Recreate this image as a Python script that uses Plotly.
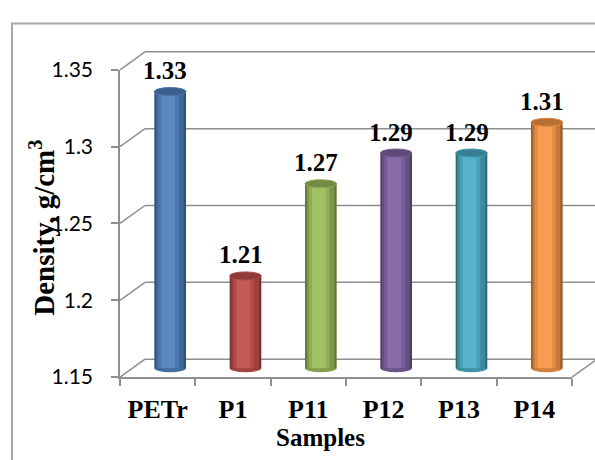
import plotly.graph_objects as go

# ---- data ----
samples = ["PETr", "P1", "P11", "P12", "P13", "P14"]
density = [1.33, 1.21, 1.27, 1.29, 1.29, 1.31]
bar_colors = ["#4F81BD", "#C0504D", "#9BBB59", "#8064A2", "#4BACC6", "#F79646"]
y_ticks = [1.15, 1.2, 1.25, 1.3, 1.35]
y_ticktext = ["1.15", "1.2", "1.25", "1.3", "1.35"]

W, H = 595, 460
YMIN, YMAX = 1.15, 1.35
# front plane (pixels)
FX0, FX1 = 120, 572
FY_BOT, FY_TOP = 384, 59
# depth offsets
DX, DY = 25, -19          # back wall
MX, MY = 12.5, -9.5       # bars plane
PAD = 0.01                # extra range on bar axes so caps are not clipped

def shade(hexc, f):
    h = hexc.lstrip("#")
    r, g, b = (int(h[i:i + 2], 16) for i in (0, 2, 4))
    if f <= 1:
        r, g, b = r * f, g * f, b * f
    else:
        t = f - 1
        r, g, b = r + (255 - r) * t, g + (255 - g) * t, b + (255 - b) * t
    return "rgb(%d,%d,%d)" % (round(r), round(g), round(b))

def fy(t):
    return FY_BOT - (t - YMIN) / (YMAX - YMIN) * (FY_BOT - FY_TOP)

def px(x):
    return x / W

def py(y):
    return 1 - y / H

fig = go.Figure()
GRID = "#8f8f8f"

# ---- walls (shapes below everything) ----
shapes = []
for t in y_ticks:
    yf = fy(t)
    yb = yf + DY
    shapes.append(dict(type="line", xref="paper", yref="paper", layer="below",
                       x0=px(FX0), y0=py(yf), x1=px(FX0 + DX), y1=py(yb),
                       line=dict(color=GRID, width=1.5)))
    shapes.append(dict(type="line", xref="paper", yref="paper", layer="below",
                       x0=px(FX0 + DX), y0=py(yb), x1=px(W + 20), y1=py(yb),
                       line=dict(color=GRID, width=1.5)))
# floor right edge
shapes.append(dict(type="line", xref="paper", yref="paper", layer="below",
                   x0=px(FX1), y0=py(FY_BOT), x1=px(FX1 + DX), y1=py(FY_BOT + DY),
                   line=dict(color=GRID, width=1.5)))
# outer chart border
shapes.append(dict(type="rect", xref="paper", yref="paper", layer="below",
                   x0=px(12), y0=py(H + 30), x1=px(W + 30), y1=py(10),
                   line=dict(color="#a6a6a6", width=2), fillcolor="rgba(0,0,0,0)"))

# ---- front axes (invisible trace to carry categories) ----
fig.add_trace(go.Bar(x=samples, y=density, xaxis="x", yaxis="y", opacity=0,
                     marker=dict(color="rgba(0,0,0,0)", line=dict(width=0)),
                     hoverinfo="skip", showlegend=False))

# ---- cylinder bars on mid-depth axes ----
idx = list(range(len(samples)))
BW = 0.42
layers = [(0.0, 1.0, 0.62), (0.05, 0.88, 0.80), (0.12, 0.66, 0.93), (0.22, 0.44, 1.06)]
lengths = [v - YMIN for v in density]
for start, frac, f in layers:
    fig.add_trace(go.Bar(
        x=idx, y=lengths, base=[YMIN] * len(idx), xaxis="x2", yaxis="y2",
        width=[BW * frac] * len(idx), offset=[-BW / 2 + BW * start] * len(idx),
        marker=dict(color=[shade(c, f) for c in bar_colors], line=dict(width=0)),
        hoverinfo="skip", showlegend=False))

cap_h = 0.0052
for i, (v, c) in enumerate(zip(density, bar_colors)):
    # bottom rounding
    shapes.append(dict(type="circle", xref="x2", yref="y2", layer="below",
                       x0=i - BW / 2, x1=i + BW / 2, y0=YMIN - cap_h / 2, y1=YMIN + cap_h / 2,
                       fillcolor=shade(c, 0.85), line=dict(width=0)))
    # top cap
    shapes.append(dict(type="circle", xref="x2", yref="y2", layer="above",
                       x0=i - BW / 2, x1=i + BW / 2, y0=v - cap_h / 2, y1=v + cap_h / 2,
                       fillcolor=shade(c, 0.74), line=dict(color=shade(c, 0.9), width=1)))

SERIF = "Liberation Serif"
annotations = []
for i, v in enumerate(density):
    annotations.append(dict(xref="x2", yref="y2", x=i, y=v, text="<b>%.2f</b>" % v,
                            showarrow=False, xanchor="center", yanchor="middle",
                            xshift=-5, yshift=21,
                            font=dict(family=SERIF, size=25, color="black")))
annotations.append(dict(xref="paper", yref="paper", x=px(42), y=py(226),
                        text="<b>Density, g/cm<sup>3</sup></b>", textangle=-90,
                        showarrow=False, xanchor="center", yanchor="middle",
                        font=dict(family=SERIF, size=29, color="black")))
annotations.append(dict(xref="paper", yref="paper", x=px(320), y=py(448),
                        text="<b>Samples</b>", showarrow=False,
                        xanchor="center", yanchor="middle",
                        font=dict(family=SERIF, size=25, color="black")))

bar_bot = fy(YMIN) + MY + PAD / (YMAX - YMIN) * (FY_BOT - FY_TOP)
bar_top = fy(YMAX) + MY - PAD / (YMAX - YMIN) * (FY_BOT - FY_TOP)

fig.update_layout(
    width=W, height=H, margin=dict(l=0, r=0, t=0, b=0),
    paper_bgcolor="white", plot_bgcolor="rgba(0,0,0,0)",
    barmode="overlay", showlegend=False,
    shapes=shapes, annotations=annotations,
    xaxis=dict(domain=[px(FX0), px(FX1)], type="category", range=[-0.5, len(samples) - 0.5],
               showline=True, linecolor=GRID, linewidth=1.5, showgrid=False,
               ticks="outside", tickson="boundaries", ticklen=7, tickcolor=GRID, tickwidth=1.5,
               ticklabelstandoff=8,
               tickfont=dict(family=SERIF, size=26, color="black"),
               tickprefix="<b>", ticksuffix="</b>", fixedrange=True),
    yaxis=dict(domain=[py(FY_BOT), py(FY_TOP)], range=[YMIN, YMAX],
               tickvals=y_ticks, ticktext=y_ticktext,
               showline=True, linecolor=GRID, linewidth=1.5, showgrid=False, zeroline=False,
               ticks="outside", ticklen=7, tickcolor=GRID, tickwidth=1.5,
               ticklabelstandoff=14,
               tickfont=dict(family="Lato", size=21, color="black"), fixedrange=True),
    xaxis2=dict(domain=[px(FX0 + MX), px(FX1 + MX)], range=[-0.5, len(samples) - 0.5],
                visible=False, anchor="y2", fixedrange=True),
    yaxis2=dict(domain=[py(bar_bot), py(bar_top)], range=[YMIN - PAD, YMAX + PAD],
                visible=False, anchor="x2", fixedrange=True),
)

fig.write_html("out.html")
